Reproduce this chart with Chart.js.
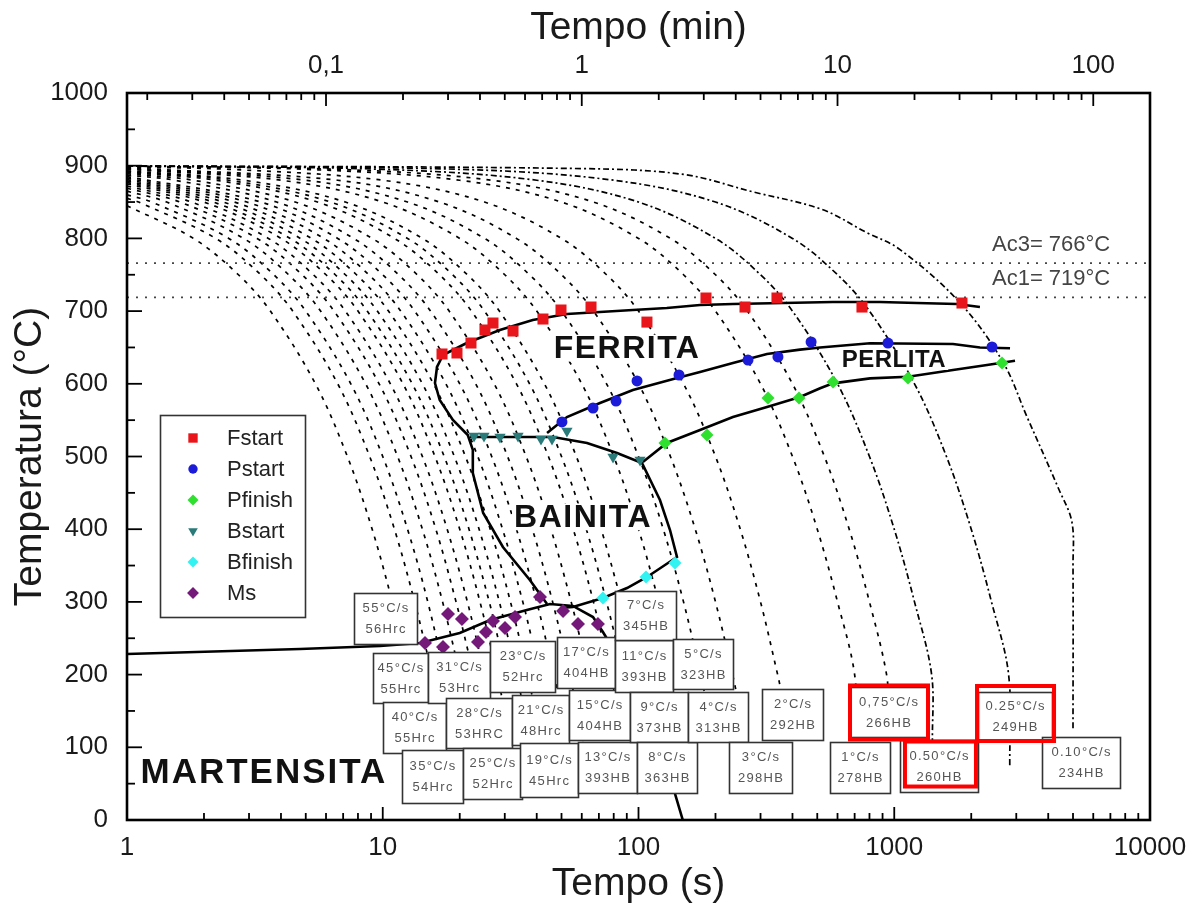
<!DOCTYPE html>
<html><head><meta charset="utf-8">
<script src="https://cdn.jsdelivr.net/npm/chart.js@4.4.1/dist/chart.umd.min.js"></script>
<style>html,body{margin:0;padding:0;background:#fff;}#wrap{width:1201px;height:908px;}</style>
</head><body><div id="wrap"><canvas id="c" width="1201" height="908"></canvas></div>
<script>
const FONT = "'Liberation Sans', Arial, Helvetica, sans-serif";

// ---- axis ticks ----
const secTicks = [1, 10, 100, 1000, 10000];
const secTickLabels = ['1', '10', '100', '1000', '10000'];
const minTicks = [0.1, 1, 10, 100];
const minTickLabels = ['0,1', '1', '10', '100'];
const tempTicks = [0, 100, 200, 300, 400, 500, 600, 700, 800, 900, 1000];

// ---- measured transformation points [time s, temperature °C] ----
const fStart = [[17.05,641.0],[19.51,642.4],[22.13,656.1],[25.10,674.0],[26.98,683.6],[32.31,672.6],[42.32,689.1],[49.77,701.5],[65.21,705.6],[107.9,684.9],[183.6,718.0],[260.9,705.6],[347.9,718.0],[747.8,705.6],[1840,711.1]];
const pStart = [[50.2,547.5],[66.4,566.7],[81.7,576.3],[98.7,603.9],[144,612.1],[268,632.7],[351,636.9],[473,657.5],[945,656.1],[2411,650.6]];
const pFinish = [[126.9,518.6],[185.3,529.6],[320.9,580.5],[424.3,580.5],[576.0,602.5],[1132,608.0],[2638,628.6]];
const bStart = [[22.74,528.2],[24.88,528.2],[28.74,526.8],[33.80,528.2],[41.57,524.1],[45.9,524.1],[52.5,535.1],[79.5,499.3],[101.4,495.2]];
const bFinish = [[72.6,305.4],[107.0,334.3],[138.9,353.5]];
const msPoints = [[14.63,243.5],[17.2,238.0],[17.99,283.4],[20.4,276.5],[23.58,244.8],[25.33,258.6],[26.98,273.7],[30.06,264.1],[32.89,279.2],[41.2,306.7],[50.7,287.5],[58.0,269.6],[69.4,269.6]];

// ---- transformation boundary lines ----
const ferriteStartLine = [[2163,705.6],[1758,709.8],[1227,711.1],[879,712.5],[576,712.5],[234,709.8],[174,708.4],[129,704.3],[95.1,701.5],[70.6,698.8],[52.5,696.0],[38.6,687.8],[28.7,674.0],[21.3,656.1],[17.2,639.6],[16.3,623.1],[16.0,601.1],[16.7,577.7],[18.8,550.2],[21.5,529.6],[22.5,509],[22.5,477.3],[24.7,422.3],[29.5,375.5],[37.6,330.1],[43.9,297.1]];
const bainiteLine = [[21.9,526.8],[46.3,526.8],[62.9,518.6],[82.4,504.8],[103.2,491.1],[121.3,440.2],[132.8,398.9],[141.4,361.8],[108.0,334.3],[90.2,319.1],[72.6,305.4],[55.4,293.0],[49.3,291.6]];
const pearliteStartLine = [[2836,648.8],[2163,650],[1697,654.7],[804,655.7],[513,650],[428,647],[318,641.0],[234,628.6],[174,616.2],[141.5,608.0],[95.1,591.5],[70.7,573.6],[52.5,554.3],[43.9,532.3]];
const pearliteFinishLine = [[2966,631.8],[2305,625.9],[1697,619],[1132,609.8],[804,607.5],[576,600.6],[513,593.8],[428,581.8],[318,568.1],[234,554.3],[174,536.5],[129,518.6],[104,492.4]];
const msLine = [[1,228.3],[4.75,235.2],[9.76,239.3],[14.0,243.5],[20.0,257.2],[26.3,275.1],[36.6,288.9],[45.1,297.1],[55.4,294.4],[66.4,279.2],[72.6,258.6],[84.6,220.1],[106,165],[127,82.5],[149,0]];
const acLevels = [766, 719];
const acLabels = ['Ac3= 766°C', 'Ac1= 719°C'];

// ---- cooling curves [time s, temperature °C] ----
const cool55 = [[1,845],[1.818,800],[2.727,750],[3.636,700],[5.455,600],[7.273,500],[9.091,400],[10.91,300],[11.6,262]];
const cool45 = [[1,855],[1.111,850],[2.222,800],[3.333,750],[4.444,700],[6.667,600],[8.889,500],[11.11,400],[13.33,300],[14.9,230]];
const cool40 = [[1,860],[1.25,850],[2.5,800],[3.75,750],[5,700],[7.5,600],[10,500],[12.5,400],[15,300],[18.4,165]];
const cool35 = [[1,865],[1.429,850],[2.857,800],[4.286,750],[5.714,700],[8.571,600],[11.43,500],[14.29,400],[17.14,300],[20,200],[22.9,100]];
const cool31 = [[1,869],[1.613,850],[3.226,800],[4.839,750],[6.452,700],[9.677,600],[12.9,500],[16.13,400],[19.35,300],[21.6,231]];
const cool28 = [[1,872],[1.786,850],[3.571,800],[5.357,750],[7.143,700],[10.71,600],[14.29,500],[17.86,400],[21.43,300],[25,200],[26.1,168]];
const cool25 = [[1,875],[2,850],[4,800],[6,750],[8,700],[12,600],[16,500],[20,400],[24,300],[28,200],[32,99]];
const cool23 = [[1,877],[2.174,850],[4.348,800],[6.522,750],[8.696,700],[13.04,600],[17.39,500],[21.74,400],[26.09,300],[28.4,246]];
const cool21 = [[1,879],[2.381,850],[4.762,800],[7.143,750],[9.524,700],[14.29,600],[19.05,500],[23.81,400],[28.57,300],[33.33,200],[34.7,172]];
const cool19 = [[1,881],[2.632,850],[5.263,800],[7.895,750],[10.53,700],[15.79,600],[21.05,500],[26.32,400],[31.58,300],[36.84,200],[41.8,106]];
const cool17 = [[1,883],[2.941,850],[5.882,800],[8.824,750],[11.76,700],[17.65,600],[23.53,500],[29.41,400],[35.29,300],[38.1,252]];
const cool15 = [[1,885],[3.333,850],[6.667,800],[10,750],[13.33,700],[20,600],[26.67,500],[33.33,400],[40,300],[46.67,200],[48.1,179]];
const cool13 = [[1,887],[1.538,880],[3.846,850],[7.692,800],[11.54,750],[15.38,700],[23.08,600],[30.77,500],[38.46,400],[46.15,300],[53.85,200],[61,107]];
const cool11 = [[1,889],[1.818,880],[4.545,850],[9.091,800],[13.64,750],[18.18,700],[27.27,600],[36.36,500],[45.45,400],[54.55,300],[59.3,248]];
const cool9 = [[1,891],[2.222,880],[5.556,850],[11.11,800],[16.67,750],[22.22,700],[33.33,600],[44.44,500],[55.56,400],[66.67,300],[77.78,200],[80.4,176]];
const cool8 = [[1,892],[2.5,880],[6.25,850],[12.5,800],[18.75,750],[25,700],[37.5,600],[50,500],[62.5,400],[75,300],[87.5,200],[99.1,107]];
const cool7 = [[1,893],[2.857,880],[7.143,850],[14.29,800],[21.43,750],[28.57,700],[42.86,600],[57.14,500],[71.43,400],[83.6,315]];
const cool5 = [[1,895],[4,880],[10,850],[20,800],[30,750],[40,700],[60,600],[80,500],[100,400],[120,300],[130,249]];
const cool4 = [[1,896],[5,880],[12.5,850],[25,800],[37.5,750],[50,700],[75,600],[100,500],[125,400],[150,300],[175,200],[181,176]];
const cool3 = [[1,897],[6.667,880],[16.67,850],[33.33,800],[50,750],[66.67,700],[100,600],[133.3,500],[166.7,400],[200,300],[233.3,200],[264,107]];
const cool2 = [[1,898],[2.5,895],[10,880],[25,850],[50,800],[75,750],[100,700],[150,600],[200,500],[250,400],[300,300],[350,200],[360,180]];
const cool1 = [[1,899],[5,895],[20,880],[50,850],[100,800],[150,750],[200,700],[300,600],[400,500],[500,400],[600,300],[700,200],[715,107]];
const cool075 = [[1,899.3],[6.667,895],[26.67,880],[66.67,850],[133.3,800],[200,750],[266.7,700],[400,600],[533.3,500],[666.7,400],[800,300],[933.3,200],[950,150]];
const cool050 = [[1,899.5],[10,895],[40,880],[100,850],[200,800],[300,750],[400,700],[600,600],[800,500],[1000,400],[1200,300],[1400,200],[1410,110]];
const cool025 = [[1,899.8],[20,895],[80,880],[200,850],[400,800],[600,750],[800,700],[1200,600],[1600,500],[2000,400],[2400,300],[2800,200],[2830,73]];
const cool010 = [[1,899.9],[60,896],[150,888],[280,864],[520,840],[780,808],[1050,785],[1800,712],[2660,630],[3300,555],[4400,455],[4950,410],[5000,350],[5000,124]];
const coolingRates = [55,45,40,35,31,28,25,23,21,19,17,15,13,11,9,8,7,5,4,3,2,1,0.75,0.5,0.25,0.1];
const coolingCurves = [cool55,cool45,cool40,cool35,cool31,cool28,cool25,cool23,cool21,cool19,cool17,cool15,cool13,cool11,cool9,cool8,cool7,cool5,cool4,cool3,cool2,cool1,cool075,cool050,cool025,cool010];

// ---- hardness label texts ----
const boxRates = ['55°C/s','45°C/s','40°C/s','35°C/s','31°C/s','28°C/s','25°C/s','23°C/s','21°C/s','19°C/s','17°C/s','15°C/s','13°C/s','11°C/s','9°C/s','8°C/s','7°C/s','5°C/s','4°C/s','3°C/s','2°C/s','1°C/s','0,75°C/s','0.50°C/s','0.25°C/s','0.10°C/s'];
const boxHardness = ['56Hrc','55Hrc','55Hrc','54Hrc','53Hrc','53HRC','52Hrc','52Hrc','48Hrc','45Hrc','404HB','404HB','393HB','393HB','373HB','363HB','345HB','323HB','313HB','298HB','292HB','278HB','266HB','260HB','249HB','234HB'];

// ---- annotation layout (anchor time, anchor temperature, width px, height px) ----
const boxLayout = [[10.25,277.2,63,51],[11.73,195.3,55,50],[13.31,127.2,63,51],[15.65,59.8,61,53],[19.87,196.0,62,51],[23.79,133.4,66,50],[26.86,64.0,59,51],[35.2,211.1,65,51],[41.4,137.6,57,50],[44.7,68.8,58,54],[62.3,216.6,58,51],[70.4,144.4,61,50],[75.6,72.2,59,51],[105.1,211.8,58,52],[120.3,141.7,58,50],[129.2,72.2,60,51],[106.5,281.3,61,49],[178.7,214.6,60,50],[204.6,141.7,60,50],[299.9,72.2,63,51],[400.2,145.1,61,51],[734.5,72.2,60,51],[949.6,147.9,78,50],[1496,74.3,78,52],[2966,143.1,74,48],[5373,79.1,78,51]];
const redFrames = [[953.9,147.9,78,54],[1516,77.0,71,45],[2980,146.5,77,55]];
const regionLabels = [
  {text:'FERRITA', t:90.2, T:649, size:32, spacing:1.5},
  {text:'PERLITA', t:997, T:633, size:24, spacing:0.5},
  {text:'BAINITA', t:60.7, T:417, size:32, spacing:1.5},
  {text:'MARTENSITA', t:3.43, T:65, size:35, spacing:2}
];

const toXY = a => a.map(p => ({x: p[0], y: p[1]}));

const markerSets = [
  {label:'Fstart', data:fStart, style:'rect', r:7.8, rot:0, color:'#e8161b'},
  {label:'Pstart', data:pStart, style:'circle', r:5.5, rot:0, color:'#1b1bd8'},
  {label:'Pfinish', data:pFinish, style:'rectRot', r:6.5, rot:0, color:'#2fe02f'},
  {label:'Bstart', data:bStart, style:'triangle', r:6.5, rot:180, color:'#2a7a7a'},
  {label:'Bfinish', data:bFinish, style:'rectRot', r:6.5, rot:0, color:'#33f2f2'},
  {label:'Ms', data:msPoints, style:'rectRot', r:7, rot:0, color:'#74187a'}
];

const datasets = [];
markerSets.forEach(m => datasets.push({
  label: m.label, data: toXY(m.data), showLine: false,
  pointStyle: m.style, pointRadius: m.r, pointRotation: m.rot,
  pointBackgroundColor: m.color, pointBorderColor: m.color, pointBorderWidth: 0,
  backgroundColor: m.color, borderColor: m.color, order: 0
}));
[ferriteStartLine, bainiteLine, pearliteStartLine, pearliteFinishLine, msLine].forEach(l => datasets.push({
  data: toXY(l), showLine: true, pointRadius: 0, borderColor: '#000', borderWidth: 2.6,
  tension: 0, fill: false, order: 1
}));
acLevels.forEach(v => datasets.push({
  data: [{x:1, y:v}, {x:10000, y:v}], showLine: true, pointRadius: 0,
  borderColor: '#444', borderWidth: 1.7, borderDash: [2, 7], order: 2
}));
coolingCurves.forEach((c, i) => datasets.push({
  data: toXY(c), showLine: true, pointRadius: 0, borderColor: '#000', borderWidth: 1.7,
  borderDash: coolingRates[i] <= 0.5 ? [6, 3, 2, 3] : [4, 6], tension: 0.35, fill: false, order: 3
}));

function drawMarker(ctx, style, x, y, r, rot, color) {
  ctx.save();
  ctx.fillStyle = color;
  ctx.beginPath();
  if (style === 'rect') { const s = r * Math.SQRT1_2; ctx.rect(x - s, y - s, 2 * s, 2 * s); }
  else if (style === 'circle') { ctx.arc(x, y, r, 0, Math.PI * 2); }
  else if (style === 'rectRot') { ctx.moveTo(x - r, y); ctx.lineTo(x, y - r); ctx.lineTo(x + r, y); ctx.lineTo(x, y + r); ctx.closePath(); }
  else if (style === 'triangle') {
    let a = rot * Math.PI / 180;
    ctx.moveTo(x + Math.sin(a) * r, y - Math.cos(a) * r);
    a += 2 * Math.PI / 3; ctx.lineTo(x + Math.sin(a) * r, y - Math.cos(a) * r);
    a += 2 * Math.PI / 3; ctx.lineTo(x + Math.sin(a) * r, y - Math.cos(a) * r);
    ctx.closePath();
  }
  ctx.fill();
  ctx.restore();
}

const overlay = {
  id: 'overlay',
  afterDatasetsDraw(chart) {
    const ctx = chart.ctx, a = chart.chartArea;
    const xs = chart.scales.x, ys = chart.scales.y, x2 = chart.scales.x2;
    ctx.save();
    // region labels
    ctx.textAlign = 'center'; ctx.textBaseline = 'middle';
    regionLabels.forEach(r => {
      ctx.font = `bold ${r.size}px ${FONT}`;
      ctx.letterSpacing = r.spacing + 'px';
      const px = xs.getPixelForValue(r.t), py = ys.getPixelForValue(r.T);
      const w = ctx.measureText(r.text).width;
      ctx.fillStyle = '#fff';
      ctx.fillRect(px - w / 2 - 2, py - r.size * 0.42, w + 4, r.size * 0.84);
      ctx.fillStyle = '#111';
      ctx.fillText(r.text, px, py + 1);
    });
    ctx.letterSpacing = '0px';
    // Ac labels
    ctx.font = `22px ${FONT}`; ctx.fillStyle = '#444'; ctx.textAlign = 'left';
    acLevels.forEach((v, i) => {
      ctx.fillText(acLabels[i], xs.getPixelForValue(2411), ys.getPixelForValue(v) - 18);
    });
    // hardness boxes
    ctx.textAlign = 'center';
    boxLayout.forEach((b, i) => {
      const cx = xs.getPixelForValue(b[0]), cy = ys.getPixelForValue(b[1]);
      const w = b[2], h = b[3];
      const l = Math.round(cx - w / 2) + 0.5, t = Math.round(cy - h / 2) + 0.5;
      ctx.fillStyle = '#fff'; ctx.fillRect(l, t, w, h);
      ctx.strokeStyle = '#333'; ctx.lineWidth = 1.6; ctx.strokeRect(l, t, w, h);
      ctx.font = `13px ${FONT}`; ctx.letterSpacing = '1.3px';
      ctx.fillStyle = '#555';
      ctx.fillText(boxRates[i], cx + 0.6, cy - 10);
      ctx.fillText(boxHardness[i], cx + 0.6, cy + 11);
    });
    ctx.letterSpacing = '0px';
    // red highlight frames
    ctx.strokeStyle = '#ff0000'; ctx.lineWidth = 4;
    redFrames.forEach(f => {
      const cx = xs.getPixelForValue(f[0]), cy = ys.getPixelForValue(f[1]);
      ctx.strokeRect(cx - f[2] / 2, cy - f[3] / 2, f[2], f[3]);
    });
    // legend
    const lx = a.left + 33, ly = a.top + 322;
    ctx.fillStyle = '#fff'; ctx.fillRect(lx, ly, 145, 202);
    ctx.strokeStyle = '#333'; ctx.lineWidth = 1.6; ctx.strokeRect(lx + 0.5, ly + 0.5, 145, 202);
    ctx.font = `22px ${FONT}`; ctx.textAlign = 'left'; ctx.textBaseline = 'middle';
    markerSets.forEach((m, i) => {
      const yy = ly + 23 + i * 31;
      drawMarker(ctx, m.style, lx + 33, yy, m.r * 0.85, m.rot, m.color);
      ctx.fillStyle = '#222';
      ctx.fillText(m.label, lx + 67, yy + 1);
    });
    // inward ticks
    ctx.strokeStyle = '#000'; ctx.lineWidth = 1.8;
    const line = (x1, y1, x2_, y2) => { ctx.beginPath(); ctx.moveTo(x1, y1); ctx.lineTo(x2_, y2); ctx.stroke(); };
    for (let k = 0; k <= 4; k++) for (let m = 1; m <= 9; m++) {
      const v = m * Math.pow(10, k); if (v > 10000) continue;
      const px = xs.getPixelForValue(v);
      line(px, a.bottom, px, a.bottom - (m === 1 ? 13 : 7));
    }
    for (let k = -2; k <= 2; k++) for (let m = 1; m <= 9; m++) {
      const v = m * Math.pow(10, k); if (v < x2.min * 0.999 || v > x2.max) continue;
      const px = x2.getPixelForValue(v);
      line(px, a.top, px, a.top + (m === 1 ? 13 : 7));
    }
    for (let T = 0; T <= 1000; T += 50) {
      const py = ys.getPixelForValue(T);
      line(a.left, py, a.left + (T % 100 === 0 ? 15 : 8), py);
    }
    // frame
    ctx.lineWidth = 2.6; ctx.strokeRect(a.left, a.top, a.right - a.left, a.bottom - a.top);
    ctx.restore();
  }
};

new Chart(document.getElementById('c'), {
  type: 'scatter',
  data: { datasets },
  plugins: [overlay],
  options: {
    responsive: false, animation: false, devicePixelRatio: 1, events: [],
    layout: { padding: { left: 0, right: 51, top: 0, bottom: 0 } },
    plugins: { legend: { display: false }, tooltip: { enabled: false } },
    scales: {
      x: {
        type: 'logarithmic', position: 'bottom', min: 1, max: 10000,
        grid: { display: false, drawTicks: false }, border: { display: false },
        afterBuildTicks: s => { s.ticks = secTicks.map(v => ({ value: v })); },
        ticks: { autoSkip: false, maxRotation: 0, padding: 12, color: '#1a1a1a', font: { family: FONT, size: 26 },
                 callback: (v, i) => secTickLabels[i] },
        title: { display: true, text: 'Tempo (s)', color: '#1a1a1a', font: { family: FONT, size: 39, lineHeight: 1 }, padding: { top: 0, bottom: 4 } },
        afterFit: s => { s.height = 88; }
      },
      x2: {
        type: 'logarithmic', position: 'top', min: 1 / 60, max: 10000 / 60,
        grid: { display: false, drawTicks: false }, border: { display: false },
        afterBuildTicks: s => { s.ticks = minTicks.map(v => ({ value: v })); },
        ticks: { autoSkip: false, maxRotation: 0, padding: 12, color: '#1a1a1a', font: { family: FONT, size: 26 },
                 callback: (v, i) => minTickLabels[i] },
        title: { display: true, text: 'Tempo (min)', color: '#1a1a1a', font: { family: FONT, size: 39, lineHeight: 1 }, padding: { top: 9, bottom: 0 } },
        afterFit: s => { s.height = 93; }
      },
      y: {
        type: 'linear', position: 'left', min: 0, max: 1000,
        grid: { display: false, drawTicks: false }, border: { display: false },
        afterBuildTicks: s => { s.ticks = tempTicks.map(v => ({ value: v })); },
        ticks: { autoSkip: false, padding: 19, color: '#1a1a1a', font: { family: FONT, size: 26 },
                 callback: (v, i) => String(tempTicks[i]) },
        title: { display: true, text: 'Temperatura (°C)', color: '#1a1a1a', font: { family: FONT, size: 39, lineHeight: 1 }, padding: { top: 11, bottom: 0 } },
        afterFit: s => { s.width = 127; }
      }
    }
  }
});
</script></body></html>
